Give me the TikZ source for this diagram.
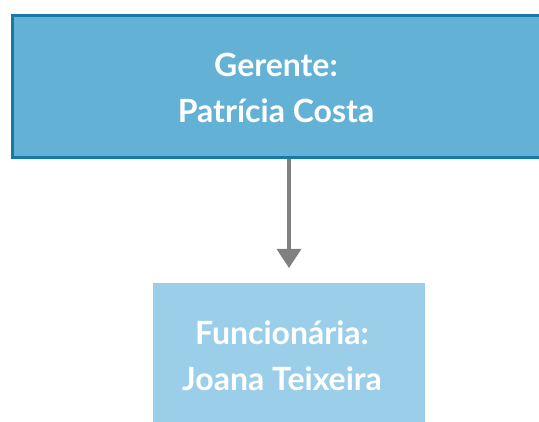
\documentclass[tikz,border=0pt]{standalone}
\usepackage{fontspec}
\setmainfont{Lato}
\usetikzlibrary{arrows.meta}
\definecolor{topfill}{RGB}{99,178,214}
\definecolor{topline}{RGB}{21,123,166}
\definecolor{botfill}{RGB}{155,207,233}
\definecolor{arrowgray}{RGB}{128,128,128}
\tikzset{
  boxtext/.style={text=white, align=center, inner sep=0pt},
  topbox/.style={draw=topline, fill=topfill, line width=3pt, inner sep=0pt},
  botbox/.style={fill=botfill, draw=none, inner sep=0pt},
  connector/.style={draw=arrowgray, line width=3.5pt, -{Triangle[length=19pt,width=24pt]}}
}
\begin{document}
\begin{tikzpicture}[x=1pt,y=-1pt]
\useasboundingbox (0,0) rectangle (539,422);
\node[topbox, minimum width=529pt, minimum height=142pt] (gerenteBox) at (276.5,87) {};
\node[botbox, minimum width=272pt, minimum height=150pt] (funcBox) at (289,358) {};
\node[boxtext, font=\bfseries\fontsize{32}{46}\selectfont] (gerente) at (276,87.5) {Gerente:\\Patrícia Costa};
\node[boxtext, font=\bfseries\fontsize{32}{46}\selectfont] (func) at (282,356) {Funcionária:\\Joana Teixeira};
\draw[connector] (gerenteBox.south -| 289,0) -- (289,268);
\end{tikzpicture}
\end{document}
